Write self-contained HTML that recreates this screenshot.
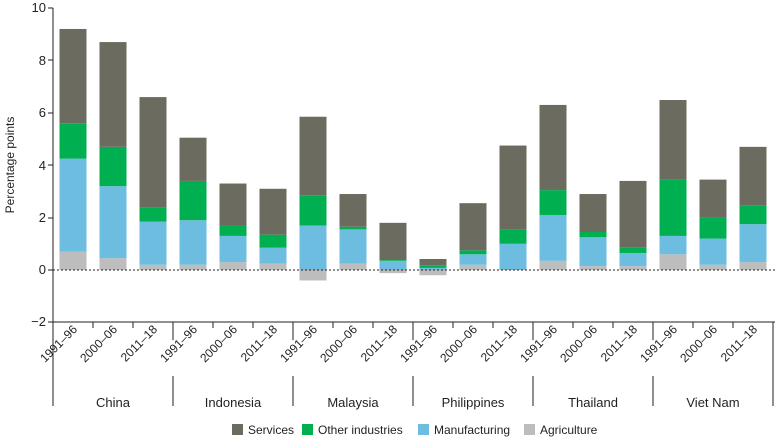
<!DOCTYPE html>
<html><head><meta charset="utf-8"><style>
body{margin:0;background:#fff;}
svg text{font-family:"Liberation Sans",sans-serif;fill:#231f20;}
.a{fill:#bdbdbd}.m{fill:#6cbde0}.o{fill:#00b050}.s{fill:#6b6b60}
</style></head><body>
<svg width="780" height="439" viewBox="0 0 780 439" xmlns="http://www.w3.org/2000/svg">
<g>
<rect class="a" x="59.5" y="251.66" width="27" height="18.34"/><rect class="m" x="59.5" y="158.65" width="27" height="93.01"/><rect class="o" x="59.5" y="123.28" width="27" height="35.37"/><rect class="s" x="59.5" y="28.96" width="27" height="94.32"/>
<rect class="a" x="99.5" y="258.21" width="27" height="11.79"/><rect class="m" x="99.5" y="186.16" width="27" height="72.05"/><rect class="o" x="99.5" y="146.86" width="27" height="39.3"/><rect class="s" x="99.5" y="42.06" width="27" height="104.8"/>
<rect class="a" x="139.5" y="264.76" width="27" height="5.24"/><rect class="m" x="139.5" y="221.53" width="27" height="43.23"/><rect class="o" x="139.5" y="207.12" width="27" height="14.41"/><rect class="s" x="139.5" y="97.08" width="27" height="110.04"/>
<rect class="a" x="179.5" y="264.76" width="27" height="5.24"/><rect class="m" x="179.5" y="220.22" width="27" height="44.54"/><rect class="o" x="179.5" y="180.92" width="27" height="39.3"/><rect class="s" x="179.5" y="137.69" width="27" height="43.23"/>
<rect class="a" x="219.5" y="262.14" width="27" height="7.86"/><rect class="m" x="219.5" y="235.94" width="27" height="26.2"/><rect class="o" x="219.5" y="225.46" width="27" height="10.48"/><rect class="s" x="219.5" y="183.54" width="27" height="41.92"/>
<rect class="a" x="259.5" y="263.45" width="27" height="6.55"/><rect class="m" x="259.5" y="247.73" width="27" height="15.72"/><rect class="o" x="259.5" y="234.63" width="27" height="13.1"/><rect class="s" x="259.5" y="188.78" width="27" height="45.85"/>
<rect class="a" x="299.5" y="270" width="27" height="10.48"/><rect class="m" x="299.5" y="225.46" width="27" height="44.54"/><rect class="o" x="299.5" y="195.33" width="27" height="30.13"/><rect class="s" x="299.5" y="116.73" width="27" height="78.6"/>
<rect class="a" x="339.5" y="263.45" width="27" height="6.55"/><rect class="m" x="339.5" y="229.39" width="27" height="34.06"/><rect class="o" x="339.5" y="226.77" width="27" height="2.62"/><rect class="s" x="339.5" y="194.02" width="27" height="32.75"/>
<rect class="a" x="379.5" y="270" width="27" height="3.14"/><rect class="m" x="379.5" y="260.83" width="27" height="9.17"/><rect class="o" x="379.5" y="260.04" width="27" height="0.79"/><rect class="s" x="379.5" y="222.84" width="27" height="37.2"/>
<rect class="a" x="419.5" y="270" width="27" height="5.24"/><rect class="m" x="419.5" y="267.9" width="27" height="2.1"/><rect class="o" x="419.5" y="265.28" width="27" height="2.62"/><rect class="s" x="419.5" y="259" width="27" height="6.28"/>
<rect class="a" x="459.5" y="264.76" width="27" height="5.24"/><rect class="m" x="459.5" y="254.28" width="27" height="10.48"/><rect class="o" x="459.5" y="250.35" width="27" height="3.93"/><rect class="s" x="459.5" y="203.19" width="27" height="47.16"/>
<rect class="m" x="499.5" y="243.8" width="27" height="26.2"/><rect class="o" x="499.5" y="229.39" width="27" height="14.41"/><rect class="s" x="499.5" y="145.55" width="27" height="83.84"/>
<rect class="a" x="539.5" y="260.83" width="27" height="9.17"/><rect class="m" x="539.5" y="214.98" width="27" height="45.85"/><rect class="o" x="539.5" y="190.09" width="27" height="24.89"/><rect class="s" x="539.5" y="104.94" width="27" height="85.15"/>
<rect class="a" x="579.5" y="266.07" width="27" height="3.93"/><rect class="m" x="579.5" y="237.25" width="27" height="28.82"/><rect class="o" x="579.5" y="232.01" width="27" height="5.24"/><rect class="s" x="579.5" y="194.02" width="27" height="37.99"/>
<rect class="a" x="619.5" y="266.07" width="27" height="3.93"/><rect class="m" x="619.5" y="252.97" width="27" height="13.1"/><rect class="o" x="619.5" y="247.73" width="27" height="5.24"/><rect class="s" x="619.5" y="180.92" width="27" height="66.81"/>
<rect class="a" x="659.5" y="254.28" width="27" height="15.72"/><rect class="m" x="659.5" y="235.94" width="27" height="18.34"/><rect class="o" x="659.5" y="179.61" width="27" height="56.33"/><rect class="s" x="659.5" y="100.01" width="27" height="79.6"/>
<rect class="a" x="699.5" y="264.76" width="27" height="5.24"/><rect class="m" x="699.5" y="238.56" width="27" height="26.2"/><rect class="o" x="699.5" y="217.6" width="27" height="20.96"/><rect class="s" x="699.5" y="179.61" width="27" height="37.99"/>
<rect class="a" x="739.5" y="262.14" width="27" height="7.86"/><rect class="m" x="739.5" y="224.15" width="27" height="37.99"/><rect class="o" x="739.5" y="205.81" width="27" height="18.34"/><rect class="s" x="739.5" y="146.86" width="27" height="58.95"/>
</g>
<line x1="53" y1="8" x2="53" y2="322" stroke="#231f20" stroke-width="1"/>
<line x1="53" y1="322" x2="775" y2="322" stroke="#231f20" stroke-width="1"/>
<line x1="53" y1="270" x2="775" y2="270" stroke="#231f20" stroke-width="1" stroke-dasharray="2,2"/>
<g font-size="13" text-anchor="end">
<text x="46" y="12">10</text><text x="46" y="65">8</text><text x="46" y="117">6</text>
<text x="46" y="170">4</text><text x="46" y="222">2</text><text x="46" y="274">0</text><text x="46" y="326">−2</text>
</g>
<g stroke="#231f20"><line x1="48" y1="8" x2="53" y2="8"/><line x1="48" y1="60" x2="53" y2="60"/><line x1="48" y1="113" x2="53" y2="113"/><line x1="48" y1="165" x2="53" y2="165"/><line x1="48" y1="218" x2="53" y2="218"/><line x1="48" y1="270" x2="53" y2="270"/><line x1="48" y1="322" x2="53" y2="322"/></g>
<text transform="translate(14,165) rotate(-90)" font-size="12" text-anchor="middle">Percentage points</text>
<g stroke="#231f20">
<line x1="53" y1="322" x2="53" y2="406"/>
<line x1="173" y1="322" x2="173" y2="340"/><line x1="293" y1="322" x2="293" y2="340"/><line x1="413" y1="322" x2="413" y2="340"/><line x1="533" y1="322" x2="533" y2="340"/><line x1="653" y1="322" x2="653" y2="340"/>
<line x1="173" y1="376" x2="173" y2="406"/><line x1="293" y1="376" x2="293" y2="406"/><line x1="413" y1="376" x2="413" y2="406"/><line x1="533" y1="376" x2="533" y2="406"/><line x1="653" y1="376" x2="653" y2="406"/>
<line x1="773" y1="322" x2="773" y2="406"/>
<line x1="93" y1="322" x2="93" y2="328"/><line x1="133" y1="322" x2="133" y2="328"/><line x1="213" y1="322" x2="213" y2="328"/><line x1="253" y1="322" x2="253" y2="328"/><line x1="333" y1="322" x2="333" y2="328"/><line x1="373" y1="322" x2="373" y2="328"/><line x1="453" y1="322" x2="453" y2="328"/><line x1="493" y1="322" x2="493" y2="328"/><line x1="573" y1="322" x2="573" y2="328"/><line x1="613" y1="322" x2="613" y2="328"/><line x1="693" y1="322" x2="693" y2="328"/><line x1="733" y1="322" x2="733" y2="328"/>
</g>
<g font-size="12" text-anchor="end">
<text transform="translate(78,330) rotate(-45)">1991–96</text><text transform="translate(118,330) rotate(-45)">2000–06</text><text transform="translate(158,330) rotate(-45)">2011–18</text>
<text transform="translate(198,330) rotate(-45)">1991–96</text><text transform="translate(238,330) rotate(-45)">2000–06</text><text transform="translate(278,330) rotate(-45)">2011–18</text>
<text transform="translate(318,330) rotate(-45)">1991–96</text><text transform="translate(358,330) rotate(-45)">2000–06</text><text transform="translate(398,330) rotate(-45)">2011–18</text>
<text transform="translate(438,330) rotate(-45)">1991–96</text><text transform="translate(478,330) rotate(-45)">2000–06</text><text transform="translate(518,330) rotate(-45)">2011–18</text>
<text transform="translate(558,330) rotate(-45)">1991–96</text><text transform="translate(598,330) rotate(-45)">2000–06</text><text transform="translate(638,330) rotate(-45)">2011–18</text>
<text transform="translate(678,330) rotate(-45)">1991–96</text><text transform="translate(718,330) rotate(-45)">2000–06</text><text transform="translate(758,330) rotate(-45)">2011–18</text>
</g>
<g font-size="13" text-anchor="middle">
<text x="113" y="407">China</text><text x="233" y="407">Indonesia</text><text x="353" y="407">Malaysia</text><text x="473" y="407">Philippines</text><text x="593" y="407">Thailand</text><text x="713" y="407">Viet Nam</text>
</g>
<g font-size="12">
<rect x="232" y="424" width="11" height="11" fill="#6b6b60"/><text x="248" y="434">Services</text>
<rect x="302" y="424" width="11" height="11" fill="#00b050"/><text x="318" y="434">Other industries</text>
<rect x="418" y="424" width="11" height="11" fill="#6cbde0"/><text x="434" y="434">Manufacturing</text>
<rect x="524" y="424" width="11" height="11" fill="#bdbdbd"/><text x="540" y="434">Agriculture</text>
</g>
</svg>
</body></html>
